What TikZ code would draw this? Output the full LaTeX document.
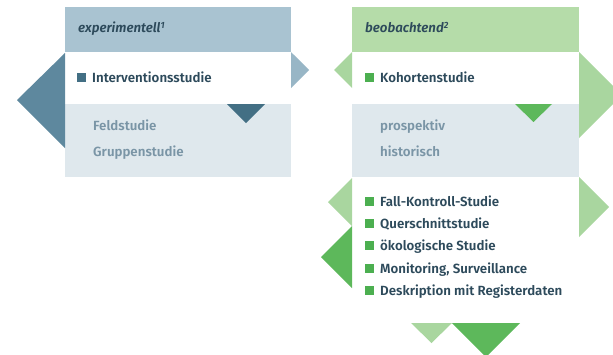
\documentclass[tikz,border=0pt]{standalone}
\usepackage{fontspec}
\setmainfont{Fira Sans}[BoldFont={Fira Sans SemiBold},BoldItalicFont={Fira Sans SemiBold Italic}]
\definecolor{blueHead}{HTML}{A9C3D1}
\definecolor{blueDark}{HTML}{5E889E}
\definecolor{blueDeep}{HTML}{436F84}
\definecolor{blueLight}{HTML}{98B6C6}
\definecolor{paleBox}{HTML}{DFE8ED}
\definecolor{greenHead}{HTML}{B5DCA9}
\definecolor{greenLight}{HTML}{A9D69F}
\definecolor{greenDark}{HTML}{5DB85B}
\definecolor{greenSq}{HTML}{4CAF50}
\definecolor{textDark}{HTML}{2D4A5B}
\definecolor{textPale}{HTML}{7A95A6}
\newcommand{\sqmark}[1]{{\color{#1}\rule[-0.3pt]{9pt}{9pt}}\hspace{6pt}}
\newcommand{\supnum}[1]{\raisebox{4pt}{\fontsize{9}{9}\selectfont #1}}
\tikzset{
  head/.style={anchor=base west, inner sep=0pt, text=textDark,
    font=\fontsize{13.3}{15}\selectfont\bfseries\itshape},
  item/.style={anchor=base west, inner sep=0pt, text=textDark,
    font=\fontsize{13.3}{15}\selectfont\bfseries},
  subitem/.style={item, text=textPale},
}
\begin{document}
\begin{tikzpicture}[x=1pt,y=-1pt]
    \clip (0,0) rectangle (613,354);
    % experimentell
    \fill[blueHead] (65,7) rectangle (291,52);
    \fill[paleBox] (65,104) rectangle (291,177);
    \fill[blueDark] (65,53) -- (17,100) -- (65,148) -- cycle;
    \fill[blueLight] (291,52) -- (309,70) -- (291,88) -- cycle;
    \fill[blueDeep] (227,104) -- (265,104) -- (246,123) -- cycle;
    \node[head] (exp) at (78,32) {experimentell\supnum{1}};
    \node[item] (interv) at (77,82) {\sqmark{blueDeep}Interventionsstudie};
    \node[subitem] (feld) at (93,130) {Feldstudie};
    \node[subitem] (grup) at (93,156) {Gruppenstudie};
    % beobachtend
    \fill[greenHead] (352,7) rectangle (579,52);
    \fill[paleBox] (352,104) rectangle (579,177);
    \fill[greenLight] (352,52) -- (334,70) -- (352,88) -- cycle;
    \fill[greenLight] (579,52) -- (622,95) -- (579,138) -- cycle;
    \fill[greenDark] (515,104) -- (552,104) -- (533.5,122) -- cycle;
    \fill[greenLight] (352,178) -- (328,202) -- (352,226) -- cycle;
    \fill[greenDark] (352,226) -- (321,257) -- (352,288) -- cycle;
    \fill[greenLight] (579,177) -- (609,207) -- (579,237) -- cycle;
    \fill[greenLight] (411,323) -- (452,323) -- (431.5,343) -- cycle;
    \fill[greenDark] (452,323) -- (520,323) -- (486,357) -- cycle;
    \node[head] (beob) at (365,32) {beobachtend\supnum{2}};
    \node[item] (kohorte) at (365,82) {\sqmark{greenSq}Kohortenstudie};
    \node[subitem] (prosp) at (380,130) {prospektiv};
    \node[subitem] (hist) at (380,156) {historisch};
    \node[item] (fallk) at (365,206) {\sqmark{greenSq}Fall-Kontroll-Studie};
    \node[item] (quer) at (365,228) {\sqmark{greenSq}Querschnittstudie};
    \node[item] (oeko) at (365,250) {\sqmark{greenSq}ökologische Studie};
    \node[item] (monit) at (365,273) {\sqmark{greenSq}Monitoring, Surveillance};
    \node[item] (deskr) at (365,295) {\sqmark{greenSq}Deskription mit Registerdaten};
\end{tikzpicture}
\end{document}
